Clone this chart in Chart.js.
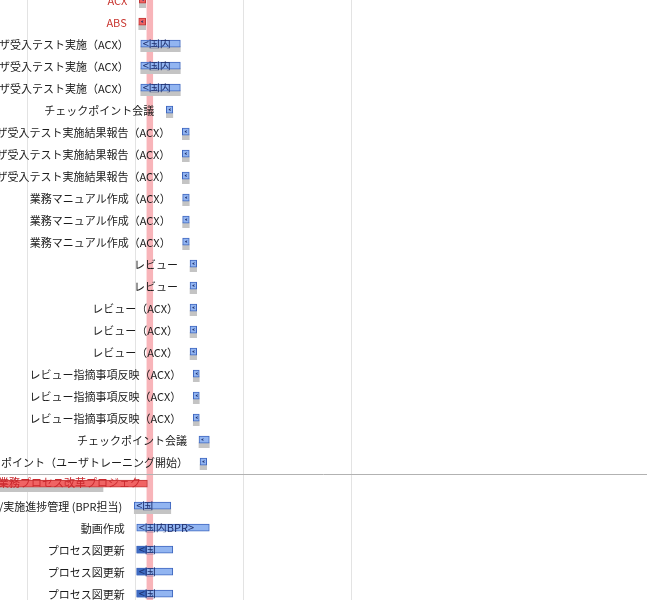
<!DOCTYPE html>
<html><head><meta charset="utf-8">
<script src="https://cdn.jsdelivr.net/npm/chart.js@4.4.0/dist/chart.umd.min.js"></script>
<style>html,body{margin:0;padding:0;background:#fff;overflow:hidden}#wrap{width:647px;height:600px}</style>
</head><body><div id="wrap"><canvas id="c" width="647" height="600"></canvas></div>
<script>
// ---- data (x values in days, 0 = first week line) ----
const taskLabels = [
  'ACX','ABS',
  'ユーザ受入テスト実施（ACX）','ユーザ受入テスト実施（ACX）','ユーザ受入テスト実施（ACX）',
  'チェックポイント会議',
  'ユーザ受入テスト実施結果報告（ACX）','ユーザ受入テスト実施結果報告（ACX）','ユーザ受入テスト実施結果報告（ACX）',
  '業務マニュアル作成（ACX）','業務マニュアル作成（ACX）','業務マニュアル作成（ACX）',
  'レビュー','レビュー',
  'レビュー（ACX）','レビュー（ACX）','レビュー（ACX）',
  'レビュー指摘事項反映（ACX）','レビュー指摘事項反映（ACX）','レビュー指摘事項反映（ACX）',
  'チェックポイント会議',
  'チェックポイント（ユーザトレーニング開始）',
  '業務プロセス改革プロジェクト',
  '計画/実施進捗管理 (BPR担当)',
  '動画作成',
  'プロセス図更新','プロセス図更新','プロセス図更新'
];
const taskKinds = [
  'alert','alert',
  'task','task','task','task','task','task','task','task','task','task',
  'task','task','task','task','task','task','task','task','task','task',
  'project','task','task','task','task','task'
];
const taskStarts = [7.26,7.22,7.35,7.35,7.35,9.01,10.05,10.05,10.05,10.07,10.07,10.07,10.55,10.55,10.55,10.55,10.55,10.76,10.76,10.76,11.13,11.20,-2.04,6.93,7.09,7.09,7.09,7.09];
const taskEnds   = [7.67,7.67,9.92,9.92,9.92,9.43,10.50,10.50,10.50,10.50,10.50,10.50,10.98,10.98,10.98,10.98,10.98,11.15,11.15,11.15,11.80,11.63,7.78,9.30,11.80,9.43,9.43,9.43];
const baselineEnds = [7.67,7.67,9.92,9.92,9.92,9.43,10.50,10.50,10.50,10.50,10.50,10.50,10.98,10.98,10.98,10.98,10.98,11.15,11.15,11.15,11.80,11.63,4.90,9.30,null,null,null,null];
const progressEnds = [null,null,null,null,null,null,null,null,null,null,null,null,null,null,null,null,null,null,null,null,null,null,null,null,null,7.74,7.74,7.74];
const barTexts = [
  '<国内ACX>','<国内ABS>',
  '<国内ACX>','<国内ACX>','<国内ACX>',
  '<国内>',
  '<国内ACX>','<国内ACX>','<国内ACX>',
  '<国内ACX>','<国内ACX>','<国内ACX>',
  '<国内>','<国内>',
  '<国内ACX>','<国内ACX>','<国内ACX>',
  '<国内ACX>','<国内ACX>','<国内ACX>',
  '<国内>','<国内>',
  '',
  '<国内BPR>','<国内BPR>','<国内BPR>','<国内BPR>','<国内BPR>'
];
const weekTicks = [0, 7, 14, 21];
const todayValue = 7.94;
const phaseBoundaryAfterRow = 21;

// ---- styles ----
const FONT = '"Noto Sans CJK JP","Noto Sans",sans-serif';
const BLUE = '#92b5f1', BLUE_BORDER = '#3f67bf';
const RED = '#f06464', RED_BORDER = '#c23535';
const GRAY = '#c4c4c4';
const PROGRESS = '#3e6cc3';

const rows = taskLabels.map((_, i) => i);

const labelPlugin = {
  id: 'ganttDecor',
  beforeDatasetsDraw(chart) {
    const {ctx, chartArea, scales} = chart;
    ctx.save();
    const tx = scales.x.getPixelForValue(todayValue);
    ctx.fillStyle = '#f8b4b9';
    ctx.fillRect(tx - 3.25, chartArea.top, 6.5, chartArea.bottom - chartArea.top);
    const sy = Math.round(scales.y.getPixelForValue(phaseBoundaryAfterRow + 0.5)) + 1.5;
    ctx.strokeStyle = '#b2b2b2';
    ctx.lineWidth = 1;
    ctx.beginPath(); ctx.moveTo(chartArea.left, sy); ctx.lineTo(chartArea.right, sy); ctx.stroke();
    ctx.restore();
  },
  afterDatasetsDraw(chart) {
    const {ctx} = chart;
    const meta = chart.getDatasetMeta(1);
    ctx.save();
    ctx.font = '11px ' + FONT;
    ctx.textBaseline = 'middle';
    rows.forEach(i => {
      const el = meta.data[i];
      const {x, base, y, height} = el.getProps(['x', 'base', 'y', 'height'], true);
      const left = Math.min(x, base), right = Math.max(x, base);
      if (taskKinds[i] === 'project') {
        ctx.save();
        ctx.beginPath(); ctx.rect(left, y - 10, right - left - 7, 20); ctx.clip();
        ctx.fillStyle = '#c9282d';
        ctx.textAlign = 'left';
        ctx.fillText(taskLabels[i], left + 2, y - 1);
        ctx.restore();
        return;
      }
      // left label
      ctx.textAlign = 'right';
      ctx.fillStyle = taskKinds[i] === 'alert' ? '#c8352f' : '#1c1c1c';
      ctx.fillText(taskLabels[i], left - 12, y + 1.5);
      // inner text
      const t = barTexts[i];
      if (!t) return;
      let s = '';
      for (const ch of t) {
        if (ctx.measureText(s + ch).width + 10 <= right - left) s += ch; else break;
      }
      let clipW = right - left - 2;
      if (!s) { s = t[0]; clipW = 2.5; }
      ctx.save();
      ctx.beginPath(); ctx.rect(left + 2, y - height / 2 - 1, clipW, height + 2); ctx.clip();
      ctx.textAlign = 'left';
      ctx.fillStyle = '#1d2d6a';
      ctx.fillText(s, left + 2, y + 0.5);
      ctx.restore();
    });
    ctx.restore();
  }
};

function draw() {
  new Chart(document.getElementById('c'), {
    type: 'bar',
    data: {
      datasets: [
        {
          label: 'baseline',
          data: rows.filter(i => baselineEnds[i] !== null).map(i => ({x: [taskStarts[i], baselineEnds[i]], y: i + 0.25})),
          backgroundColor: GRAY, borderWidth: 0, barThickness: 5, grouped: false, order: 3
        },
        {
          label: 'task',
          data: rows.map(i => ({x: [taskStarts[i], taskEnds[i]], y: i})),
          backgroundColor: c => taskKinds[c.dataIndex] === 'task' ? BLUE : RED,
          borderColor: c => taskKinds[c.dataIndex] === 'task' ? BLUE_BORDER : RED_BORDER,
          borderWidth: 1, borderSkipped: false, barThickness: 7, grouped: false, order: 2
        },
        {
          label: 'progress',
          data: rows.filter(i => progressEnds[i] !== null).map(i => ({x: [taskStarts[i], progressEnds[i]], y: i})),
          backgroundColor: PROGRESS, borderColor: BLUE_BORDER, borderWidth: 1, borderSkipped: false,
          barThickness: 7, grouped: false, order: 1
        }
      ]
    },
    options: {
      indexAxis: 'y',
      responsive: false,
      animation: false,
      events: [],
      layout: {padding: 0},
      plugins: {legend: {display: false}, tooltip: {enabled: false}},
      scales: {
        x: {
          type: 'linear', min: -1.785, max: 40.21,
          afterBuildTicks: s => { s.ticks = weekTicks.map(v => ({value: v})); },
          ticks: {display: false},
          grid: {color: '#e3e3e3', lineWidth: 1, drawTicks: false},
          border: {display: false}
        },
        y: {
          type: 'linear', reverse: true, offset: false,
          min: 0.0136, max: 27.2864,
          display: false,
          grid: {display: false}
        }
      }
    },
    plugins: [labelPlugin]
  });
}
document.fonts.load('11px "Noto Sans CJK JP"', '国').then(draw, draw);
</script>
</body></html>
